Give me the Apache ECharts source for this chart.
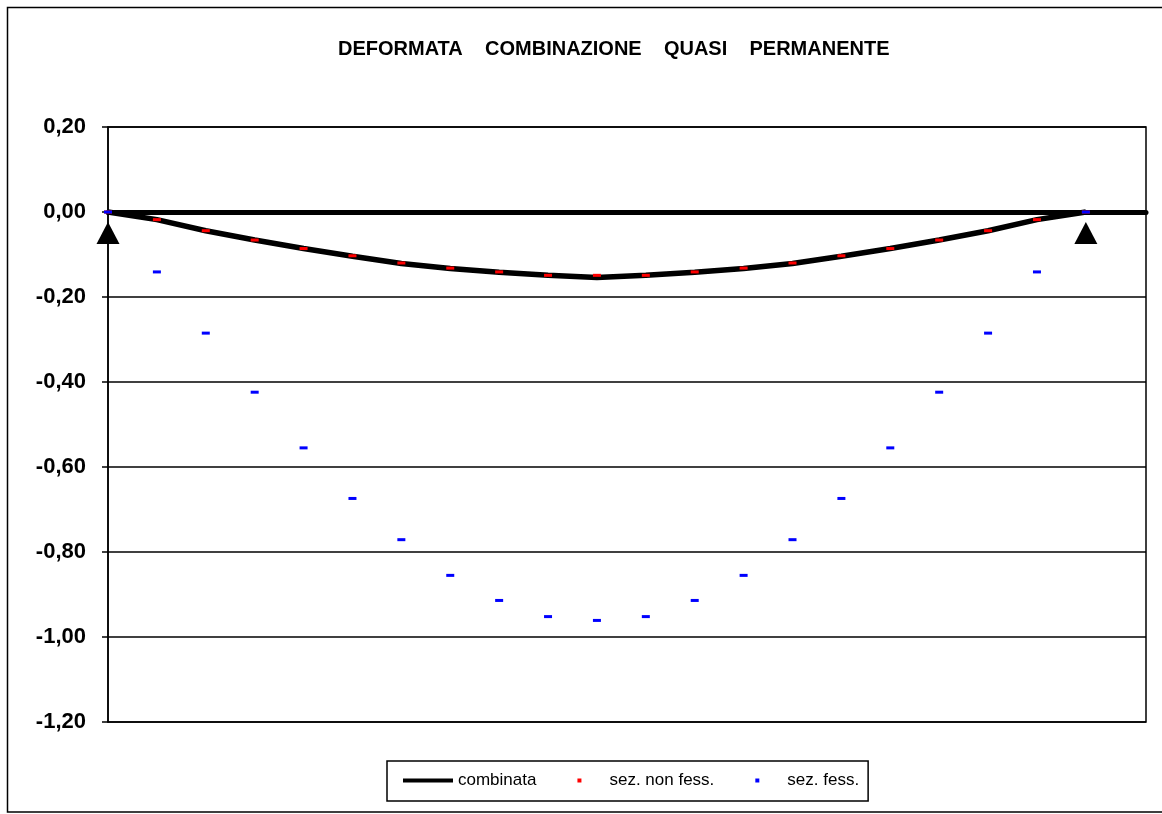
<!DOCTYPE html>
<html>
<head>
<meta charset="utf-8">
<script src="https://cdn.jsdelivr.net/npm/echarts@6/dist/echarts.min.js"></script>
<style>
html,body{margin:0;padding:0;background:#fff;}
#chart{width:1162px;height:814px;}
</style>
</head>
<body>
<div id="chart"></div>
<script>
// sections along the beam (index of section)
const sections = [0,1,2,3,4,5,6,7,8,9,10,11,12,13,14,15,16,17,18,19,20];
// deflections
const combinata = [0,-0.018,-0.044,-0.066,-0.086,-0.104,-0.121,-0.133,-0.142,-0.149,-0.154,-0.149,-0.142,-0.133,-0.121,-0.104,-0.086,-0.066,-0.044,-0.018,0];
const sezNonFess = [0,-0.018,-0.044,-0.066,-0.086,-0.103,-0.120,-0.132,-0.141,-0.149,-0.149,-0.149,-0.141,-0.132,-0.120,-0.103,-0.086,-0.066,-0.044,-0.018,0];
const sezFess = [0,-0.141,-0.285,-0.424,-0.555,-0.674,-0.771,-0.855,-0.914,-0.952,-0.961,-0.952,-0.914,-0.855,-0.771,-0.674,-0.555,-0.424,-0.285,-0.141,0];
// supports (section index)
const supports = [0, 20];
const seriesNames = ['combinata', 'sez. non fess.', 'sez. fess.'];
const titleText = 'DEFORMATA    COMBINAZIONE    QUASI    PERMANENTE';

const pair = (xs, ys) => xs.map((x, i) => [x, ys[i]]);
const FONT = '"Liberation Sans", Arial, sans-serif';

const chart = echarts.init(document.getElementById('chart'), null, {renderer: 'canvas'});
chart.setOption({
  animation: false,
  backgroundColor: '#fff',
  textStyle: {fontFamily: FONT},
  title: {
    text: titleText,
    left: 333, top: 34,
    textStyle: {fontFamily: FONT, fontSize: 20, fontWeight: 'bold', color: '#000'}
  },
  graphic: [{
    type: 'rect', silent: true, z: -1,
    shape: {x: 7.5, y: 7.5, width: 1160, height: 804.5},
    style: {fill: 'none', stroke: '#000', lineWidth: 1.5}
  }],
  grid: {
    left: 108, right: 16, top: 127, bottom: 92,
    show: true, borderColor: '#000', borderWidth: 1.5, backgroundColor: '#fff'
  },
  legend: {
    left: 387, top: 761,
    orient: 'horizontal',
    padding: [11, 9, 12, 16],
    itemGap: 41,
    itemWidth: 50, itemHeight: 4,
    borderColor: '#000', borderWidth: 1.5,
    backgroundColor: '#fff',
    textStyle: {fontFamily: FONT, fontSize: 17, color: '#000'},
    data: [
      {name: seriesNames[0], icon: 'path://M0,0L50,0L50,4L0,4Z', itemStyle: {color: '#000', opacity: 1}},
      {name: seriesNames[1], icon: 'path://M0,0L1,0L1,1L0,1Z', itemStyle: {color: '#ff0000', opacity: 1}},
      {name: seriesNames[2], icon: 'path://M0,0L1,0L1,1L0,1Z', itemStyle: {color: '#0000ff', opacity: 1}}
    ]
  },
  xAxis: {
    type: 'value', min: 0, max: 21.23,
    axisLine: {show: true, onZero: true, lineStyle: {color: '#000', width: 5}},
    axisTick: {show: false}, axisLabel: {show: false}, splitLine: {show: false}
  },
  yAxis: {
    type: 'value', min: -1.2, max: 0.2, interval: 0.2,
    axisLine: {show: true, lineStyle: {color: '#000', width: 1.5}},
    axisTick: {show: true, length: 6, lineStyle: {color: '#000', width: 1.5}},
    axisLabel: {
      margin: 22, color: '#000', fontFamily: FONT, fontSize: 22, fontWeight: 'bold',
      formatter: v => v.toFixed(2).replace('.', ',')
    },
    splitLine: {show: true, lineStyle: {color: '#000', width: 1.5}}
  },
  series: [
    {
      name: seriesNames[0], type: 'line', data: pair(sections, combinata),
      showSymbol: false, symbol: 'none', z: 3,
      lineStyle: {color: '#000', width: 5.5}, itemStyle: {color: '#000'}
    },
    {
      name: seriesNames[1], type: 'scatter', data: pair(sections, sezNonFess),
      symbol: 'rect', symbolSize: [8, 3], z: 4,
      itemStyle: {color: '#ff0000', opacity: 1}
    },
    {
      name: seriesNames[2], type: 'scatter', data: pair(sections, sezFess),
      symbol: 'rect', symbolSize: [8, 3], z: 5,
      itemStyle: {color: '#0000ff', opacity: 1}
    },
    {
      name: 'appoggi', type: 'scatter', data: supports.map(x => [x, 0]),
      symbol: 'triangle', symbolSize: [23, 22], symbolOffset: [0, 21], z: 2,
      silent: true, itemStyle: {color: '#000', opacity: 1}
    }
  ]
});
</script>
</body>
</html>
